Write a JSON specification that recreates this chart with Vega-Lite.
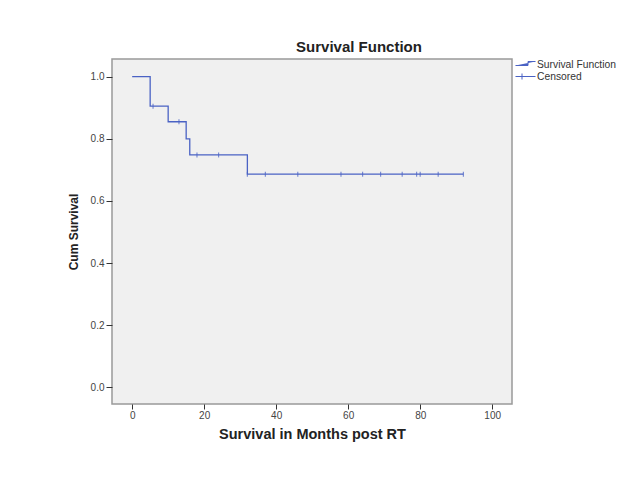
{
  "$schema": "https://vega.github.io/schema/vega-lite/v6.json",
  "width": 400,
  "height": 345,
  "autosize": {"type": "none"},
  "padding": {"left": 112, "top": 59, "right": 126, "bottom": 77},
  "background": "white",
  "title": {
    "text": "Survival Function",
    "font": "Liberation Sans",
    "fontSize": 15,
    "fontWeight": "bold",
    "color": "#222222",
    "anchor": "middle",
    "dx": 47,
    "offset": 4
  },
  "datasets": {
    "curve": [
      {"month": 0, "survival": 1.0, "series": "Survival Function"},
      {"month": 5, "survival": 0.905, "series": "Survival Function"},
      {"month": 10, "survival": 0.855, "series": "Survival Function"},
      {"month": 15, "survival": 0.80, "series": "Survival Function"},
      {"month": 16, "survival": 0.748, "series": "Survival Function"},
      {"month": 32, "survival": 0.686, "series": "Survival Function"},
      {"month": 92, "survival": 0.686, "series": "Survival Function"}
    ],
    "censored": [
      {"month": 5.8, "survival": 0.905, "series": "Censored"},
      {"month": 13, "survival": 0.855, "series": "Censored"},
      {"month": 18, "survival": 0.748, "series": "Censored"},
      {"month": 24, "survival": 0.748, "series": "Censored"},
      {"month": 32, "survival": 0.686, "series": "Censored"},
      {"month": 37, "survival": 0.686, "series": "Censored"},
      {"month": 46, "survival": 0.686, "series": "Censored"},
      {"month": 58, "survival": 0.686, "series": "Censored"},
      {"month": 64, "survival": 0.686, "series": "Censored"},
      {"month": 69, "survival": 0.686, "series": "Censored"},
      {"month": 75, "survival": 0.686, "series": "Censored"},
      {"month": 79, "survival": 0.686, "series": "Censored"},
      {"month": 80, "survival": 0.686, "series": "Censored"},
      {"month": 85, "survival": 0.686, "series": "Censored"},
      {"month": 92, "survival": 0.686, "series": "Censored"}
    ]
  },
  "encoding": {
    "x": {
      "field": "month",
      "type": "quantitative",
      "scale": {"domain": [-5.6, 105.5], "nice": false, "zero": false},
      "axis": {
        "title": "Survival in Months post RT",
        "values": [0, 20, 40, 60, 80, 100],
        "format": "d",
        "domain": false,
        "grid": false,
        "tickSize": 5,
        "tickColor": "#333333",
        "labelPadding": 1,
        "labelFontSize": 10,
        "labelColor": "#444444",
        "labelFont": "Liberation Sans",
        "titleFont": "Liberation Sans",
        "titleFontSize": 14.5,
        "titleFontWeight": "bold",
        "titleColor": "#222222",
        "titlePadding": 7
      }
    },
    "y": {
      "field": "survival",
      "type": "quantitative",
      "scale": {"domain": [-0.054, 1.057], "nice": false, "zero": false},
      "axis": {
        "title": "Cum Survival",
        "values": [0, 0.2, 0.4, 0.6, 0.8, 1.0],
        "format": ".1f",
        "domain": false,
        "grid": false,
        "tickSize": 6,
        "tickColor": "#333333",
        "labelPadding": 2,
        "labelFontSize": 10,
        "labelColor": "#444444",
        "labelFont": "Liberation Sans",
        "titleFont": "Liberation Sans",
        "titleFontSize": 12,
        "titleFontWeight": "bold",
        "titleColor": "#222222",
        "titlePadding": 10
      }
    },
    "color": {
      "field": "series",
      "type": "nominal",
      "scale": {"domain": ["Survival Function", "Censored"], "range": ["#4a62c4", "#4a62c4"]},
      "legend": {
        "title": null,
        "orient": "right",
        "offset": 3,
        "padding": 0,
        "symbolSize": 100,
        "labelOffset": 11,
        "rowPadding": 1,
        "labelFont": "Liberation Sans",
        "labelFontSize": 10.3,
        "labelColor": "#333333",
        "encode": {
          "symbols": {
            "update": {
              "shape": {"signal": "datum.value === 'Censored' ? 'M-1,0H3M0.3,-0.6V0.6' : 'M-1,0.2H1.5V-0.6H3'"},
              "fill": {"value": "transparent"},
              "stroke": {"value": "#4a62c4"},
              "strokeWidth": {"value": 1},
              "opacity": {"value": 1}
            }
          }
        }
      }
    }
  },
  "layer": [
    {
      "data": {"name": "curve"},
      "mark": {"type": "line", "interpolate": "step-after", "strokeWidth": 1.3}
    },
    {
      "data": {"name": "censored"},
      "mark": {"type": "tick", "orient": "vertical", "size": 5, "thickness": 1.2}
    }
  ],
  "config": {
    "view": {"fill": "#f0f0f0", "stroke": "#999999", "strokeWidth": 1.5}
  }
}
